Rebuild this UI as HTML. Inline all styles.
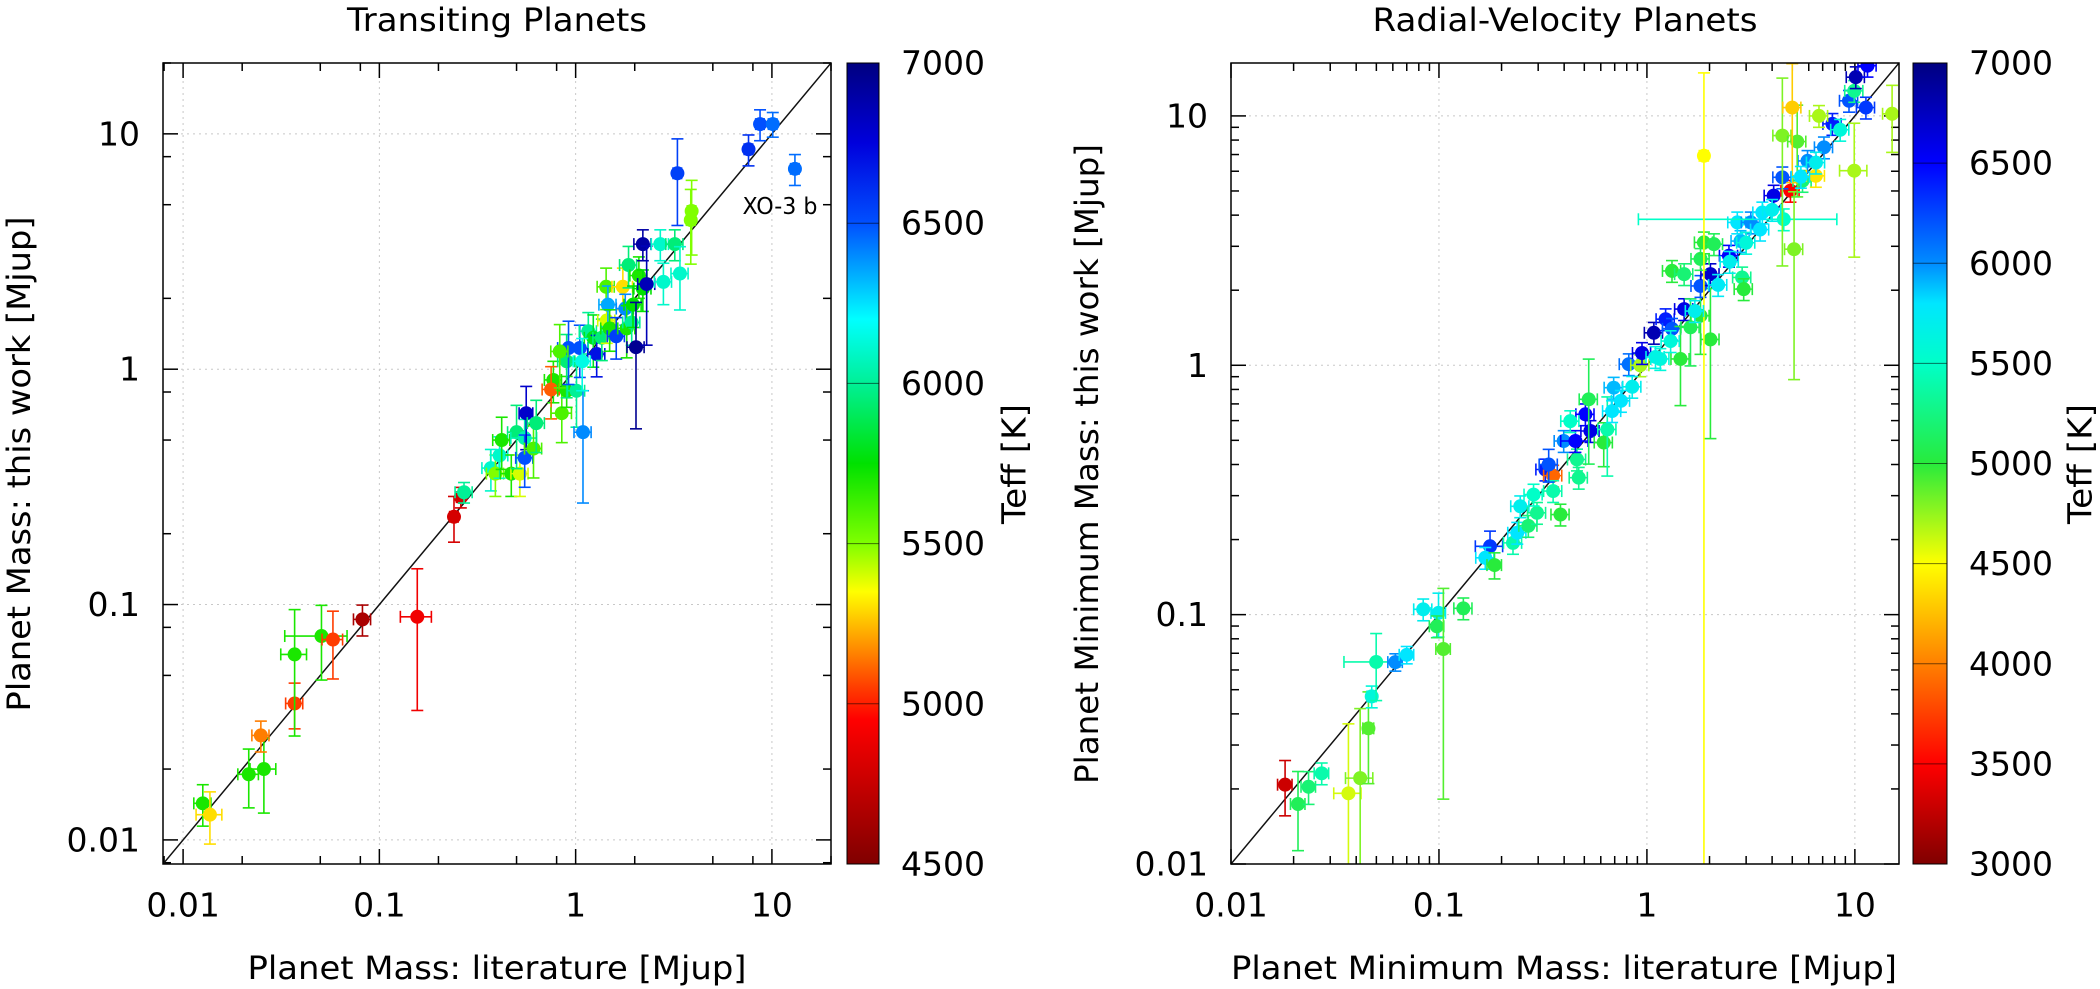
<!DOCTYPE html>
<html><head><meta charset="utf-8"><style>
html,body{margin:0;padding:0;background:#fff;}
svg{display:block;font-family:"DejaVu Sans","Liberation Sans",sans-serif;}
</style></head><body>
<svg id="fig" width="2100" height="989" viewBox="0 0 2100 989" xmlns="http://www.w3.org/2000/svg">
<defs>
<clipPath id="clipL"><rect x="163" y="63" width="668" height="801"/></clipPath>
<clipPath id="clipR"><rect x="1231" y="63" width="668" height="801"/></clipPath>
</defs>
</svg>
<script>
// ---- Transiting planets data ----
const litT  = [0.0126,0.0137,0.0216,0.0258,0.0249,0.037,0.037,0.0507,0.058,0.082,0.156,0.24,0.26,0.27,
0.37,0.39,0.41,0.42,0.47,0.52,0.50,0.55,0.55,0.56,0.61,0.63,0.77,0.75,0.85,0.9,0.9,1.01,1.05,1.09,1.16,1.23,1.28,0.92,0.83,
1.08,1.36,1.43,1.44,1.46,1.49,1.61,1.74,1.79,1.82,1.86,1.93,1.96,2.03,2.1,2.2,2.2,2.3,2.8,2.7,3.2,3.4,3.3,3.86,3.9,7.6,8.7,10.1,13.1];
const thisT = [0.0143,0.0128,0.019,0.020,0.0278,0.038,0.0614,0.0735,0.071,0.0865,0.0887,0.236,0.286,0.30,
0.38,0.36,0.43,0.50,0.36,0.36,0.54,0.51,0.42,0.65,0.46,0.59,0.90,0.82,0.65,0.81,1.08,0.81,1.23,0.54,1.45,
1.36,1.16,1.23,1.19,1.08,1.36,2.24,1.61,1.88,1.49,1.38,2.24,1.81,1.49,2.77,1.58,1.88,1.24,2.5,2.2,3.4,2.3,2.35,3.4,3.4,2.55,6.8,4.3,4.7,8.6,11.0,11.0,7.1];
const teffT = [5700,5300,5700,5700,5150,5050,5700,5700,5050,4650,4900,4800,4800,6000,
6100,5500,6100,5700,5700,5400,5950,6050,6500,6800,5600,5950,5700,5100,5600,5700,5950,6000,6500,6400,6000,
5800,6700,6500,5600,6150,5950,5600,5400,6350,5700,6550,5300,6400,5700,5950,6000,5750,6950,5700,5750,6900,6850,6100,6100,5950,6100,6550,5500,5500,6600,6500,6450,6450];
const xeT = [0.1,0.15,0.12,0.15,0.1,0.1,0.15,0.35,0.12,0.1,0.18,0.05,0.05,0.1,
0.1,0.1,0.1,0.1,0.12,0.1,0.1,0.15,0.1,0.08,0.1,0.1,0.1,0.1,0.12,0.1,0.1,0.1,0.1,0.1,0.1,
0.1,0.1,0.12,0.1,0.1,0.1,0.1,0.1,0.1,0.1,0.1,0.12,0.1,0.1,0.1,0.1,0.1,0.1,0.1,0.1,0.1,0.1,0.1,0.1,0.1,0.1,0.05,0.05,0.05,0.05,0.05,0.05,0.05];
const yeT = [0.2,0.25,0.28,0.35,0.15,0.22,0.55,0.35,0.32,0.15,0.6,0.22,0.1,0.1,
0.2,0.2,0.2,0.25,0.2,0.2,0.3,0.2,0.25,0.3,0.25,0.25,0.2,0.25,0.25,0.15,0.3,0.3,0.25,0.5,0.2,
0.25,0.2,0.3,0.3,0.25,0.2,0.2,0.2,0.2,0.2,0.2,0.2,0.15,0.25,0.2,0.2,0.2,0.55,0.2,0.2,0.15,0.45,0.2,0.15,0.15,0.3,0.4,0.35,0.35,0.15,0.15,0.12,0.15];
// ---- Radial-velocity planets data ----
const litR  = [0.0182,0.021,0.0236,0.0273,0.0367,0.0418,0.0458,0.0475,0.0499,0.0617,0.070,0.084,0.0995,0.0977,0.105,0.131,
0.176,0.167,0.185,0.227,0.238,0.269,0.246,0.296,0.285,0.325,0.354,0.354,0.384,0.47,0.461,0.398,0.453,0.506,0.535,0.428,0.62,0.645,0.525,0.68,0.692,
0.337,0.818,0.929,0.947,1.08,1.16,1.23,1.32,1.51,1.45,1.62,1.81,2.02,1.81,2.02,1.81,1.32,1.51,1.88,2.1,2.48,2.87,2.92,2.82,2.72,3.16,3.59,
4.55,4.07,4.9,4.48,5.1,5.6,5.92,6.49,7.1,7.8,4.48,5.28,5.0,6.72,9.37,9.93,10.1,11.5,11.3,9.93,15.1,1.88,
2.5,3.0,3.5,4.0,5.5,6.5,8.5,1.3,1.7,2.2,0.75,0.85,1.1];
const thisR = [0.0208,0.0174,0.0204,0.0231,0.0192,0.0221,0.035,0.047,0.0646,0.0645,0.069,0.105,0.1016,0.0898,0.0728,0.106,
0.188,0.169,0.158,0.194,0.213,0.227,0.272,0.256,0.303,0.382,0.361,0.313,0.252,0.354,0.419,0.497,0.497,0.636,0.545,0.597,0.49,0.553,0.73,0.655,0.813,
0.40,1.01,1.0,1.12,1.35,1.06,1.53,1.40,1.68,1.06,1.42,1.58,1.27,2.08,2.32,2.67,2.39,2.32,3.11,3.06,2.75,2.25,2.02,3.15,3.74,3.74,4.1,
3.85,4.79,5.01,5.67,2.92,5.49,6.6,5.75,7.48,9.29,8.34,7.89,10.8,10.0,11.5,12.6,14.3,15.9,10.8,6.03,10.2,6.92,
2.6,3.1,3.5,4.2,5.7,6.5,8.8,1.25,1.65,2.1,0.72,0.82,1.08];
const teffR = [3300,5100,5200,5400,4600,4800,4900,5600,5400,6000,5800,5700,5700,5100,4900,5100,
6300,5800,5000,5400,5800,5200,5700,5300,5500,6400,3900,5400,5000,5300,5300,6000,6500,6500,6600,5500,5000,5400,5100,5800,5900,
6200,6100,4700,6600,6800,5600,6400,6200,6600,5000,5100,5000,5000,6200,6700,5100,5000,5200,5000,5100,6500,5300,5000,5900,5800,6000,5800,
5500,6600,3500,6200,4800,5200,6000,4400,6000,6400,4800,4900,4300,4700,6200,5300,6800,6500,6300,4700,4700,4500,
5700,5600,5800,5700,5800,5700,5600,5600,5700,5750,5800,5700,5650];
const xeR = [0.08,0.08,0.08,0.08,0.15,0.15,0.06,0.05,0.3,0.08,0.08,0.1,0.08,0.08,0.08,0.1,
0.15,0.1,0.08,0.1,0.1,0.1,0.1,0.1,0.1,0.1,0.1,0.1,0.1,0.1,0.1,0.1,0.15,0.1,0.1,0.1,0.1,0.1,0.1,0.1,0.1,
0.1,0.1,0.1,0.1,0.1,0.1,0.1,0.1,0.1,0.1,0.1,0.1,0.1,0.1,0.1,0.1,0.1,0.1,0.1,0.1,0.1,0.1,0.1,0.1,0.1,0.1,0.1,
0.8,0.1,0.1,0.1,0.1,0.1,0.1,0.1,0.1,0.1,0.1,0.1,0.1,0.1,0.1,0.1,0.1,0.1,0.1,0.15,0.1,0.05,
0.1,0.1,0.1,0.1,0.1,0.1,0.1,0.1,0.1,0.1,0.1,0.1,0.1];
const yeR = [0.25,0.35,0.15,0.1,0.9,0.9,0.4,0.1,0.3,0.08,0.08,0.1,0.2,0.1,0.75,0.1,
0.15,0.1,0.12,0.1,0.1,0.1,0.1,0.1,0.1,0.1,0.1,0.1,0.1,0.1,0.1,0.1,0.1,0.1,0.1,0.1,0.2,0.35,0.45,0.1,0.1,
0.15,0.1,0.1,0.1,0.1,0.1,0.1,0.1,0.1,0.35,0.3,0.3,0.6,0.1,0.1,0.1,0.1,0.1,0.1,0.1,0.1,0.1,0.1,0.1,0.1,0.1,0.1,
0.1,0.1,0.1,0.1,0.7,0.1,0.1,0.1,0.1,0.1,0.7,0.4,0.5,0.1,0.1,0.1,0.1,0.1,0.1,0.55,0.3,1.15,
0.1,0.1,0.1,0.1,0.1,0.1,0.1,0.1,0.1,0.1,0.1,0.1,0.1];
const majorTicks = [0.01,0.1,1,10];
const tickLabels = ["0.01","0.1","1","10"];
const cbTicksL = [4500,5000,5500,6000,6500,7000];
const cbTicksR = [3000,3500,4000,4500,5000,5500,6000,6500,7000];

const NS="http://www.w3.org/2000/svg";
const svg=document.getElementById('fig');
function mk(tag,attrs,parent,text){const e=document.createElementNS(NS,tag);for(const k in attrs)e.setAttribute(k,attrs[k]);if(text!==undefined)e.textContent=text;(parent||svg).appendChild(e);return e;}

// colour maps: [fraction from bottom(low Teff), r,g,b]
const mapL=[[0,128,0,0],[0.18,255,0,0],[0.22,255,60,0],[0.34,255,255,0],[0.40,128,255,0],[0.5,0,225,0],[0.6,0,240,150],[0.68,0,255,255],[0.8,0,80,255],[0.9,0,0,220],[1,0,0,128]];
const mapR=[[0,128,0,0],[0.125,255,0,0],[0.25,255,128,0],[0.375,255,255,0],[0.5,40,235,60],[0.625,0,255,200],[0.7,0,230,255],[0.75,0,140,255],[0.875,0,0,255],[1,0,0,128]];
function cmap(map,f){f=Math.max(0,Math.min(1,f));
 for(let i=1;i<map.length;i++){if(f<=map[i][0]){const a=map[i-1],b=map[i],t=(f-a[0])/(b[0]-a[0]);
  return `rgb(${Math.round(a[1]+t*(b[1]-a[1]))},${Math.round(a[2]+t*(b[2]-a[2]))},${Math.round(a[3]+t*(b[3]-a[3]))})`;}}
 return 'rgb(0,0,128)';}
function makeGrad(id,map){
 const defs=svg.querySelector('defs');
 const g=mk('linearGradient',{id:id,x1:0,y1:1,x2:0,y2:0},defs);
 map.forEach(s=>mk('stop',{offset:s[0],'stop-color':`rgb(${s[1]},${s[2]},${s[3]})`},g));
}
makeGrad('gradL',mapL);makeGrad('gradR',mapR);

function panel(cfg,lit,mine,teff,xe,ye){
 const {L,R,T,B,dmin,dmax,minor,tmin,tmax,cbx,clip,key,map}=cfg;
 const lx=v=>L+(Math.log10(v)-Math.log10(dmin))/(Math.log10(dmax)-Math.log10(dmin))*(R-L);
 const ly=v=>B-(Math.log10(v)-Math.log10(dmin))/(Math.log10(dmax)-Math.log10(dmin))*(B-T);
 const g=mk('g',{});
 
 
 majorTicks.forEach(v=>{
  if(v>=dmin&&v<=dmax){
   const gx=mk('line',{x1:lx(v),x2:lx(v),y1:T,y2:B,stroke:'#c8c8c8','stroke-width':1,'stroke-dasharray':'2,4'},g);
   
   
   const gy=mk('line',{x1:L,x2:R,y1:ly(v),y2:ly(v),stroke:'#c8c8c8','stroke-width':1,'stroke-dasharray':'2,4'},g);
   
   
  }
 });
 const tg=mk('g',{stroke:'#000','stroke-width':1.5},g);
 
 
 for(let e=-3;e<=2;e++){
  for(let m=1;m<=9;m++){
   const v=m*Math.pow(10,e);
   if(v<dmin*0.999||v>dmax*1.001)continue;
   let len;
   if(m===1)len=15;else if(minor.includes(m))len=8;else continue;
   mk('line',{x1:lx(v),x2:lx(v),y1:B,y2:B-len},tg);
   mk('line',{x1:lx(v),x2:lx(v),y1:T,y2:T+len},tg);
   mk('line',{x1:L,x2:L+len,y1:ly(v),y2:ly(v)},tg);
   mk('line',{x1:R,x2:R-len,y1:ly(v),y2:ly(v)},tg);
  }
 }
 majorTicks.forEach((v,i)=>{
  if(v<dmin*0.999||v>dmax*1.001)return;
  const tx=mk('text',{x:lx(v),y:905,'font-size':33,'text-anchor':'middle','dominant-baseline':'central'},g,tickLabels[i]);
  
  
  const ty=mk('text',{x:L-23,y:ly(v),'font-size':33,'text-anchor':'end','dominant-baseline':'central'},g,tickLabels[i]);
  
  
 });
 const pg=mk('g',{'clip-path':`url(#${clip})`},g);
 const dg=mk('line',{x1:lx(dmin),y1:ly(dmin),x2:lx(dmax),y2:ly(dmax),stroke:'#111','stroke-width':1.5},pg);
 
 
 for(let i=0;i<lit.length;i++){
  const col=cmap(map,(teff[i]-tmin)/(tmax-tmin));
  const x=lit[i],y=mine[i];
  const px=lx(x),py=ly(y);
  const pt=mk('g',{stroke:col,'stroke-width':1.6,fill:col},pg);
  
  
  const x0=lx(Math.max(dmin*0.5,x*(1-xe[i]))),x1=lx(x*(1+xe[i]));
  const y0=ly(Math.max(dmin*0.5,y*(1-ye[i]))),y1=ly(y*(1+ye[i]));
  mk('line',{x1:x0,x2:x1,y1:py,y2:py},pt);
  mk('line',{x1:x0,x2:x0,y1:py-6,y2:py+6},pt);
  mk('line',{x1:x1,x2:x1,y1:py-6,y2:py+6},pt);
  mk('line',{x1:px,x2:px,y1:y0,y2:y1},pt);
  mk('line',{x1:px-6,x2:px+6,y1:y0,y2:y0},pt);
  mk('line',{x1:px-6,x2:px+6,y1:y1,y2:y1},pt);
  mk('circle',{cx:px,cy:py,r:7,stroke:'none'},pt);
 }
 const fr=mk('rect',{x:L,y:T,width:R-L,height:B-T,fill:'none',stroke:'#000','stroke-width':1.5},g);
 
 
 const cb=mk('rect',{x:cbx,y:T,width:cfg.cbw,height:B-T,fill:`url(#${cfg.grad})`,stroke:'#000','stroke-width':1},g);
 
 
 cfg.cbTicks.forEach(t=>{
  const yy=B-(t-tmin)/(tmax-tmin)*(B-T);
  if(t!==tmin&&t!==tmax){
   const cl=mk('line',{x1:cbx,x2:cbx+cfg.cbw,y1:yy,y2:yy,stroke:'#000','stroke-width':1,'stroke-opacity':0.55},g);
   
   
  }
  const ct=mk('text',{x:cfg.cblx,y:yy,'font-size':33,'dominant-baseline':'central'},g,String(t));
  
  
 });
}

panel({key:'transiting',L:163,R:831,T:63,B:864,dmin:0.0079,dmax:20,minor:[2,5,8],tmin:4500,tmax:7000,cbx:847,cbw:32,cblx:901,cbTicks:cbTicksL,clip:'clipL',map:mapL,grad:'gradL'},litT,thisT,teffT,xeT,yeT);
panel({key:'radial-velocity',L:1231,R:1899,T:63,B:864,dmin:0.01,dmax:16.3,minor:[2,3,4,5,6,7,8,9],tmin:3000,tmax:7000,cbx:1913,cbw:34,cblx:1969,cbTicks:cbTicksR,clip:'clipR',map:mapR,grad:'gradR'},litR,thisR,teffR,xeR,yeR);

function label(txt,x,y,size,name,rot,len){
 const a={x:x,y:y,'font-size':size,'text-anchor':'middle','dominant-baseline':'central'};
 if(rot)a.transform=`rotate(-90 ${x} ${y})`;
 if(len){a.textLength=len;a.lengthAdjust='spacingAndGlyphs';}
 const t=mk('text',a,svg,txt);
 
 
}
label('Transiting Planets',497,20,32,'left-title',false,300);
label('Radial-Velocity Planets',1565,20,32,'right-title',false,385);
label('Planet Mass: literature [Mjup]',497,968,32,'left-x-axis-title',false,499);
label('Planet Minimum Mass: literature [Mjup]',1564,968,32,'right-x-axis-title',false,666);
label('Planet Mass: this work [Mjup]',19,464,32,'left-y-axis-title',true,495);
label('Planet Minimum Mass: this work [Mjup]',1087,464,32,'right-y-axis-title',true,640);
label('Teff [K]',1014,464,33,'left-colorbar-title',true,120);
label('Teff [K]',2080,464,33,'right-colorbar-title',true,120);
label('XO-3 b',780,207,23,'xo-3b-annotation',false,75);
</script>
</body></html>
